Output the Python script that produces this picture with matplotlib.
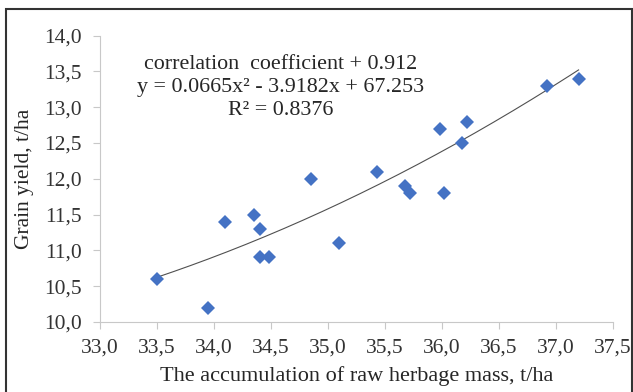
import numpy as np
import matplotlib.pyplot as plt
import matplotlib.ticker as mticker
from matplotlib.patches import Rectangle

# raw herbage mass (t/ha) and grain yield (t/ha)
herbage = [33.5, 33.95, 34.1, 34.35, 34.4, 34.4, 34.48, 34.85, 35.1, 35.43,
           35.68, 35.72, 35.98, 36.02, 36.18, 36.22, 36.92, 37.2]
grain = [10.6, 10.2, 11.4, 11.5, 11.3, 10.9, 10.9, 12.0, 11.1, 12.1,
         11.9, 11.8, 12.7, 11.8, 12.5, 12.8, 13.3, 13.4]
# polynomial trendline as printed on the chart
trend_coef = [0.0665, -3.9182, 67.253]

plt.rcParams['font.family'] = ['Liberation Serif', 'DejaVu Serif']

fig = plt.figure(figsize=(6.33, 3.92), dpi=100)
ax = fig.add_axes([0.158, 0.179, 0.810, 0.730])

# frame round the whole figure
fig.patches.append(Rectangle((0.009, -0.01), 0.99, 0.988, transform=fig.transFigure,
                             fill=False, edgecolor='#333333', linewidth=1.5))

xs = np.linspace(min(herbage), max(herbage), 200)
ax.plot(xs, np.polyval(trend_coef, xs), color='#505050', linewidth=0.8, zorder=2)
ax.plot(herbage, grain, linestyle='none', marker='D', markersize=7.3,
        color='#4472C4', markeredgewidth=0, zorder=3)

ax.set_xlim(33.0, 37.5)
ax.set_ylim(10.0, 14.0)
ax.xaxis.set_major_locator(mticker.MultipleLocator(0.5))
ax.yaxis.set_major_locator(mticker.MultipleLocator(0.5))
fmt = mticker.FuncFormatter(lambda v, p: f'{v:.1f}'.replace('.', ','))
ax.xaxis.set_major_formatter(fmt)
ax.yaxis.set_major_formatter(fmt)

for s in ['top', 'right']:
    ax.spines[s].set_visible(False)
for s in ['left', 'bottom']:
    ax.spines[s].set_color('#c8c8c8')
ax.tick_params(direction='out', length=5, color='#c8c8c8', labelsize=15.5,
               labelcolor='#333333')
ax.tick_params(axis='y', pad=8)
ax.tick_params(axis='x', pad=7)

ax.set_xlabel('The accumulation of raw herbage mass, t/ha', fontsize=16,
              color='#262626', labelpad=6)
ax.set_ylabel('Grain yield, t/ha', fontsize=15.5, color='#262626', labelpad=7)

ax.text(0.353, 0.818, 'correlation  coefficient + 0.912\n'
        'y = 0.0665x² - 3.9182x + 67.253\nR² = 0.8376',
        transform=ax.transAxes, ha='center', va='center', fontsize=15.8,
        color='#262626', linespacing=1.3)

fig.savefig('out.png', dpi=100)
